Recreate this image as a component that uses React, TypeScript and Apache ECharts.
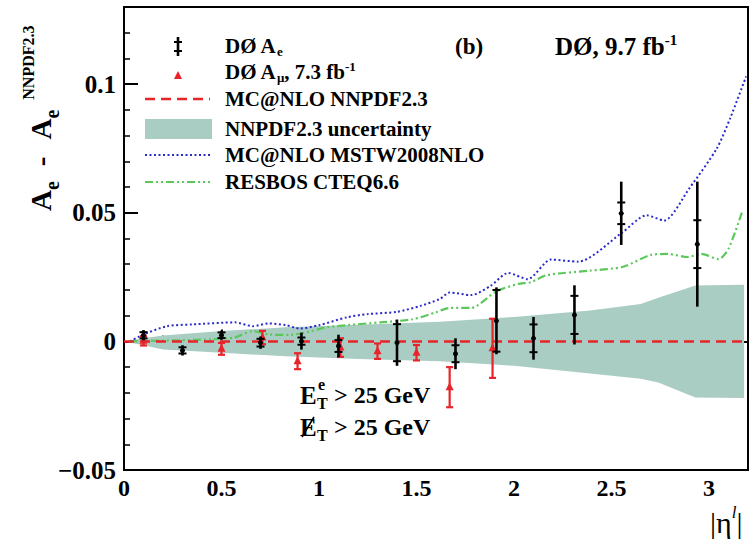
import React, { useEffect, useRef } from "react";
import * as echarts from "echarts";

// DØ A_e (electron) data: x, central value, total error, statistical error
const aeX = [0.1, 0.3, 0.5, 0.7, 0.91, 1.1, 1.4, 1.7, 1.91, 2.1, 2.31, 2.55, 2.94];
const aeY = [0.0024, -0.0035, 0.0024, -0.0005, 0.0001, -0.0018, -0.0005, -0.0048, 0.008, 0.0012, 0.0103, 0.0498, 0.0378];
const aeTot = [0.002, 0.002, 0.0018, 0.0024, 0.0033, 0.0044, 0.009, 0.006, 0.013, 0.0083, 0.0115, 0.0123, 0.0243];
const aeStat = [0.0012, 0.0012, 0.0011, 0.0015, 0.0014, 0.0023, 0.0072, 0.0033, 0.012, 0.0054, 0.0074, 0.0042, 0.0093];

// DØ A_mu (muon) data
const amuX = [0.1, 0.5, 0.71, 0.89, 1.11, 1.3, 1.5, 1.67, 1.89];
const amuY = [0.0002, -0.0029, 0.0015, -0.0077, -0.0024, -0.0038, -0.0044, -0.0178, -0.0027];
const amuErr = [0.0018, 0.0023, 0.0026, 0.0031, 0.0036, 0.003, 0.003, 0.0078, 0.0115];

// NNPDF2.3 uncertainty band
const bandX = [0, 0.1, 0.2, 0.5, 0.83, 1.2, 1.62, 2.0, 2.39, 2.65, 2.74, 2.93, 3.18];
const bandHigh = [0, 0.0012, 0.0023, 0.004, 0.0055, 0.0065, 0.0076, 0.0095, 0.012, 0.0145, 0.017, 0.0217, 0.022];
const bandLow = [0, -0.0015, -0.0032, -0.0044, -0.0058, -0.0068, -0.0077, -0.0095, -0.0125, -0.0145, -0.016, -0.0218, -0.022];

// MC@NLO NNPDF2.3 (reference line)
const nnpdfX = [0, 3.18];
const nnpdfY = [0, 0];

// MC@NLO MSTW2008NLO
const mstwX = [0.03, 0.1, 0.22, 0.35, 0.57, 0.66, 0.74, 0.83, 0.9, 1.0, 1.145, 1.25, 1.4, 1.52, 1.62, 1.67, 1.78, 1.88, 1.97, 2.07, 2.19, 2.33, 2.55, 2.68, 2.77, 2.9, 3.04, 3.11, 3.19];
const mstwY = [0.0, 0.0027, 0.0059, 0.0066, 0.0074, 0.0059, 0.007, 0.0063, 0.005, 0.0063, 0.0094, 0.0106, 0.0115, 0.0138, 0.0165, 0.019, 0.018, 0.0216, 0.0266, 0.0242, 0.0318, 0.031, 0.042, 0.049, 0.047, 0.0596, 0.075, 0.087, 0.103];

// RESBOS CTEQ6.6
const resbosX = [0.03, 0.2, 0.45, 0.57, 0.66, 0.74, 0.85, 0.95, 1.04, 1.145, 1.315, 1.48, 1.6, 1.67, 1.78, 1.91, 2.02, 2.085, 2.17, 2.39, 2.56, 2.7, 2.79, 2.89, 2.96, 3.05, 3.1, 3.17];
const resbosY = [0.0, 0.0003, 0.0008, 0.0016, 0.004, 0.0027, 0.0025, 0.0038, 0.0055, 0.0063, 0.0074, 0.0086, 0.0113, 0.013, 0.013, 0.0195, 0.0223, 0.023, 0.0258, 0.0275, 0.029, 0.0336, 0.034, 0.0328, 0.034, 0.032, 0.036, 0.0504];

// Tick labels
const xTickLabels = ["0", "0.5", "1", "1.5", "2", "2.5", "3"];
const yTickLabels = ["\u22120.05", "0", "0.05", "0.1"];

const RED = "#e8232a";
const BLUE = "#2b2bcc";
const GREEN = "#5cc85c";
const BAND = "#aacdc3";
const FONT = "'Liberation Serif', 'Times New Roman', serif";

const pairs = (xs: number[], ys: number[]) => xs.map((x, i) => [x, ys[i]]);

export default function App() {
  const ref = useRef<HTMLDivElement>(null);
  useEffect(() => {
    if (!ref.current) return;
    const chart = echarts.init(ref.current, undefined, { renderer: "svg" });

    const legendRich = {
      m: { fontFamily: FONT, fontWeight: "bold", fontSize: 21, lineHeight: 24, color: "#000" },
      sub: { fontFamily: FONT, fontWeight: "bold", fontSize: 13, lineHeight: 14, verticalAlign: "bottom", color: "#000" },
      sup: { fontFamily: FONT, fontWeight: "bold", fontSize: 13, lineHeight: 12, verticalAlign: "top", color: "#000" },
    };
    const legendText = (y: number, text: string) => ({
      type: "text",
      x: 225,
      y,
      style: { text, rich: legendRich, verticalAlign: "middle", align: "left" },
    });
    const LX1 = 145;
    const LX2 = 210;
    const annot = (x: number, y: number, text: string, size: number) => ({
      type: "text",
      x,
      y,
      style: { text, fontFamily: FONT, fontWeight: "bold", fontSize: size, fill: "#000", verticalAlign: "middle" },
    });

    const option: any = {
      animation: false,
      backgroundColor: "#fff",
      grid: {
        left: 124,
        right: 5,
        top: 7,
        bottom: 73,
        show: true,
        borderColor: "#000",
        borderWidth: 2,
        backgroundColor: "transparent",
      },
      xAxis: [
        {
          type: "value",
          min: 0,
          max: 3.2,
          interval: 0.5,
          position: "bottom",
          axisLine: { show: true, lineStyle: { color: "#000", width: 2 } },
          axisTick: { show: true, inside: true, length: 12, lineStyle: { color: "#000", width: 2 } },
          splitLine: { show: false },
          axisLabel: {
            color: "#000",
            fontFamily: FONT,
            fontWeight: "bold",
            fontSize: 24,
            margin: 6,
            formatter: (v: number) => {
              const i = Math.round(v / 0.5);
              if (Math.abs(v - i * 0.5) < 1e-6 && i < xTickLabels.length) return xTickLabels[i];
              return "";
            },
          },
        },
        {
          type: "value",
          min: 0,
          max: 3.2,
          interval: 0.1,
          position: "bottom",
          axisLine: { show: false },
          axisTick: { show: true, inside: true, length: 6, lineStyle: { color: "#000", width: 1.5 } },
          splitLine: { show: false },
          axisLabel: { show: false },
        },
      ],
      yAxis: [
        {
          type: "value",
          min: -0.05,
          max: 0.13,
          interval: 0.05,
          position: "left",
          axisLine: { show: true, lineStyle: { color: "#000", width: 2 } },
          axisTick: { show: true, inside: true, length: 14, lineStyle: { color: "#000", width: 2 } },
          splitLine: { show: false },
          axisLabel: {
            color: "#000",
            fontFamily: FONT,
            fontWeight: "bold",
            fontSize: 25,
            margin: 8,
            formatter: (v: number) => {
              const i = Math.round((v + 0.05) / 0.05);
              if (Math.abs(v - (-0.05 + i * 0.05)) < 1e-6 && i >= 0 && i < yTickLabels.length) return yTickLabels[i];
              return "";
            },
          },
        },
        {
          type: "value",
          min: -0.05,
          max: 0.13,
          interval: 0.01,
          position: "left",
          axisLine: { show: false },
          axisTick: { show: true, inside: true, length: 6, lineStyle: { color: "#000", width: 1.5 } },
          splitLine: { show: false },
          axisLabel: { show: false },
        },
      ],
      series: [
        {
          name: "NNPDF2.3 uncertainty",
          type: "custom",
          data: bandX.map((x, i) => [x, bandLow[i], bandHigh[i]]),
          encode: { x: 0, y: [1, 2] },
          silent: true,
          z: 1,
          renderItem: (params: any, api: any) => {
            if (params.dataIndex !== 0) return null;
            const up = bandX.map((x, i) => api.coord([x, bandHigh[i]]));
            const lo = bandX.map((x, i) => api.coord([x, bandLow[i]])).reverse();
            return {
              type: "polygon",
              shape: { points: up.concat(lo) },
              style: { fill: BAND, stroke: "none" },
            };
          },
        },
        {
          name: "MC@NLO MSTW2008NLO",
          type: "line",
          data: pairs(mstwX, mstwY),
          showSymbol: false,
          smooth: 0.25,
          z: 3,
          lineStyle: { color: BLUE, width: 2, type: [2, 2.5] },
        },
        {
          name: "RESBOS CTEQ6.6",
          type: "line",
          data: pairs(resbosX, resbosY),
          showSymbol: false,
          smooth: 0.25,
          z: 3,
          lineStyle: { color: GREEN, width: 2.2, type: [8, 3, 2, 3, 2, 3] },
        },
        {
          name: "MC@NLO NNPDF2.3",
          type: "line",
          data: pairs(nnpdfX, nnpdfY),
          showSymbol: false,
          z: 4,
          lineStyle: { color: RED, width: 2.5, type: [10, 6] },
        },
        {
          name: "DØ A_mu",
          type: "custom",
          data: amuX.map((x, i) => [x, amuY[i], amuErr[i]]),
          encode: { x: 0, y: 1 },
          z: 5,
          renderItem: (params: any, api: any) => {
            const x = api.value(0);
            const y = api.value(1);
            const e = api.value(2);
            const c = api.coord([x, y]);
            const t = api.coord([x, y + e]);
            const b = api.coord([x, y - e]);
            return {
              type: "group",
              children: [
                { type: "line", shape: { x1: c[0], y1: t[1], x2: c[0], y2: b[1] }, style: { stroke: RED, lineWidth: 2.2 } },
                { type: "line", shape: { x1: c[0] - 3.5, y1: t[1], x2: c[0] + 3.5, y2: t[1] }, style: { stroke: RED, lineWidth: 2.2 } },
                { type: "line", shape: { x1: c[0] - 3.5, y1: b[1], x2: c[0] + 3.5, y2: b[1] }, style: { stroke: RED, lineWidth: 2.2 } },
                {
                  type: "polygon",
                  shape: { points: [[c[0], c[1] - 5], [c[0] - 4, c[1] + 3], [c[0] + 4, c[1] + 3]] },
                  style: { fill: RED },
                },
              ],
            };
          },
        },
        {
          name: "DØ A_e",
          type: "custom",
          data: aeX.map((x, i) => [x, aeY[i], aeTot[i], aeStat[i]]),
          encode: { x: 0, y: 1 },
          z: 6,
          renderItem: (params: any, api: any) => {
            const x = api.value(0);
            const y = api.value(1);
            const t = api.value(2);
            const s = api.value(3);
            const c = api.coord([x, y]);
            const top = api.coord([x, y + t]);
            const bot = api.coord([x, y - t]);
            const st = api.coord([x, y + s]);
            const sb = api.coord([x, y - s]);
            return {
              type: "group",
              children: [
                { type: "line", shape: { x1: c[0], y1: top[1], x2: c[0], y2: bot[1] }, style: { stroke: "#000", lineWidth: 2.6 } },
                { type: "line", shape: { x1: c[0] - 4, y1: st[1], x2: c[0] + 4, y2: st[1] }, style: { stroke: "#000", lineWidth: 2 } },
                { type: "line", shape: { x1: c[0] - 4, y1: sb[1], x2: c[0] + 4, y2: sb[1] }, style: { stroke: "#000", lineWidth: 2 } },
                { type: "circle", shape: { cx: c[0], cy: c[1], r: 2.5 }, style: { fill: "#000" } },
              ],
            };
          },
        },
      ],
      graphic: [
        // Y-axis title
        {
          type: "text",
          x: 41,
          y: 211,
          rotation: Math.PI / 2,
          style: {
            text: "{m|A}{sub|e}{d|-}{m|A}{sub|e}{sup|NNPDF2.3}",
            align: "left",
            verticalAlign: "middle",
            rich: {
              m: { fontFamily: FONT, fontWeight: "bold", fontSize: 29, lineHeight: 42, color: "#000" },
              d: { fontFamily: FONT, fontWeight: "bold", fontSize: 29, lineHeight: 42, padding: [0, 17, 0, 15], color: "#000" },
              sub: { fontFamily: FONT, fontWeight: "bold", fontSize: 20, lineHeight: 30, verticalAlign: "bottom", color: "#000" },
              sup: { fontFamily: FONT, fontWeight: "bold", fontSize: 16, lineHeight: 16, verticalAlign: "top", padding: [0, 0, 0, 10], color: "#000" },
            },
          },
        },
        // X-axis title
        {
          type: "text",
          x: 710,
          y: 522,
          style: {
            text: "{m||\u03b7}{sup|l}{m||}",
            align: "left",
            verticalAlign: "middle",
            rich: {
              m: { fontFamily: FONT, fontSize: 30, lineHeight: 36, color: "#000" },
              sup: { fontFamily: FONT, fontStyle: "italic", fontSize: 17, lineHeight: 17, verticalAlign: "top", color: "#000" },
            },
          },
        },
        // Top-right labels
        annot(455, 46, "(b)", 23),
        {
          type: "text",
          x: 555,
          y: 46,
          style: {
            text: "{m|DØ, 9.7 fb}{sup|-1}",
            verticalAlign: "middle",
            rich: {
              m: { fontFamily: FONT, fontWeight: "bold", fontSize: 25, lineHeight: 28, color: "#000" },
              sup: { fontFamily: FONT, fontWeight: "bold", fontSize: 15, lineHeight: 15, verticalAlign: "top", color: "#000" },
            },
          },
        },
        // Cut annotations
        annot(300, 395, "E", 25),
        annot(318, 384, "e", 16),
        annot(317, 403, "T", 16),
        annot(334, 395, "> 25 GeV", 24),
        annot(300, 427, "E", 25),
        { type: "line", shape: { x1: 302, y1: 437, x2: 314, y2: 417 }, style: { stroke: "#000", lineWidth: 1.6 } },
        annot(317, 435, "T", 16),
        annot(334, 427, "> 25 GeV", 24),
        // Legend symbols
        { type: "line", shape: { x1: 178, y1: 37, x2: 178, y2: 56 }, style: { stroke: "#000", lineWidth: 2.6 } },
        { type: "line", shape: { x1: 174, y1: 42, x2: 182, y2: 42 }, style: { stroke: "#000", lineWidth: 2 } },
        { type: "line", shape: { x1: 174, y1: 51, x2: 182, y2: 51 }, style: { stroke: "#000", lineWidth: 2 } },
        { type: "polygon", shape: { points: [[178, 71], [174, 79], [182, 79]] }, style: { fill: RED } },
        { type: "line", shape: { x1: LX1, y1: 99, x2: LX2, y2: 99 }, style: { stroke: RED, lineWidth: 2.5, lineDash: [10, 6] } },
        { type: "rect", shape: { x: LX1, y: 119, width: 67, height: 20 }, style: { fill: BAND } },
        { type: "line", shape: { x1: LX1, y1: 155, x2: LX2, y2: 155 }, style: { stroke: BLUE, lineWidth: 2, lineDash: [2, 2.5] } },
        { type: "line", shape: { x1: LX1, y1: 182, x2: LX2, y2: 182 }, style: { stroke: GREEN, lineWidth: 2.2, lineDash: [8, 3, 2, 3, 2, 3] } },
        // Legend texts
        legendText(46, "{m|DØ A}{sub|e}"),
        legendText(72, "{m|DØ A}{sub|\u03bc}{m|, 7.3 fb}{sup|-1}"),
        legendText(99, "{m|MC@NLO NNPDF2.3}"),
        legendText(129, "{m|NNPDF2.3 uncertainty}"),
        legendText(155, "{m|MC@NLO MSTW2008NLO}"),
        legendText(182, "{m|RESBOS CTEQ6.6}"),
      ],
    };
    chart.setOption(option);
    return () => chart.dispose();
  }, []);
  return <div ref={ref} style={{ width: 753, height: 543, position: "absolute", left: 0, top: 0 }} />;
}
